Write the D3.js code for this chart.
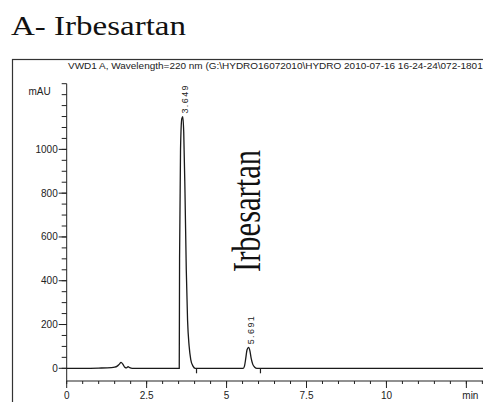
<!DOCTYPE html>
<html>
<head>
<meta charset="utf-8">
<script src="https://cdn.jsdelivr.net/npm/d3@7"></script>
<style>
  body { margin: 0; background: #fff; }
  svg { display: block; }
</style>
</head>
<body>
<div id="chart"></div>
<script>
const times = [0, 0.5, 1.0, 1.4, 1.5, 1.58, 1.64, 1.70, 1.76, 1.82, 1.87, 1.92, 1.97, 2.05, 2.3, 3.0, 3.5,
  3.52, 3.53, 3.56, 3.60, 3.63, 3.66, 3.70, 3.74, 3.78, 3.83, 3.88, 3.95, 4.02, 4.5, 5.0, 5.52,
  5.56, 5.60, 5.64, 5.69, 5.73, 5.77, 5.82, 5.88, 5.95, 6.5, 8, 10, 12, 13.1];
const mAU = [0, 0, 1, 3, 5, 10, 18, 27, 18, 4, 2, 7, 3, 0, 0, 0, 0,
  0, 500, 1000, 1140, 1150, 1080, 800, 450, 220, 100, 40, 10, 0, 0, 0, 0,
  10, 45, 85, 96, 80, 45, 18, 5, 0, 0, 0, 0, 0, 0];
const yTicks = [0, 200, 400, 600, 800, 1000];
const xTicks = [0, 2.5, 5, 7.5, 10, 12.5];
const xTickLabels = ["0", "2.5", "5", "7.5", "10", "min"];
const peakTimes = [3.64, 5.69];
const peakHeights = [1150, 96];
const peakLabels = ["3.649", "5.691"];
const peakEnds = [4.06, 6.06];
const title = "A- Irbesartan";
const header = "VWD1 A, Wavelength=220 nm (G:\\HYDRO16072010\\HYDRO 2010-07-16 16-24-24\\072-1801.D)";
const compound = "Irbesartan";

const W = 483, H = 402;
const ink = "#222";
const svg = d3.select("#chart").append("svg").attr("width", W).attr("height", H);

// échelles
const x = d3.scaleLinear().domain([0, 13.02]).range([66.7, 483]);
const y = d3.scaleLinear().domain([-58, 1300]).range([381, 83.7]);

// titre
svg.append("text")
  .attr("x", 11).attr("y", 35)
  .attr("font-family", "'Liberation Serif','Times New Roman',serif")
  .attr("font-size", 28).attr("fill", "#111")
  .attr("textLength", 175).attr("lengthAdjust", "spacingAndGlyphs")
  .text(title);

// cadre
svg.append("rect")
  .attr("x", 12.5).attr("y", 59.5).attr("width", 500).attr("height", 400)
  .attr("fill", "none").attr("stroke", "#333").attr("stroke-width", 1.2);

// en-tête
svg.append("text")
  .attr("x", 68).attr("y", 69)
  .attr("font-family", "'Liberation Sans Narrow','Arial Narrow','Liberation Sans',sans-serif")
  .attr("font-size", 9).attr("fill", ink)
  .attr("textLength", 428).attr("lengthAdjust", "spacingAndGlyphs")
  .text(header);

// axe Y
const yAxis = svg.append("g").attr("transform", `translate(${x(0)},0)`);
yAxis.append("line").attr("y1", y(1300)).attr("y2", y(-58)).attr("stroke", ink);
yAxis.selectAll(".minor").data(d3.range(0, 1301, 50)).join("line")
  .attr("x1", -5).attr("x2", 0).attr("y1", d => y(d)).attr("y2", d => y(d))
  .attr("stroke", ink);
yAxis.selectAll(".major").data(yTicks).join("line")
  .attr("x1", -8).attr("x2", 0).attr("y1", d => y(d)).attr("y2", d => y(d))
  .attr("stroke", ink);
yAxis.selectAll("text.lab").data(yTicks).join("text")
  .attr("x", -9).attr("y", d => y(d)).attr("dy", "0.35em")
  .attr("text-anchor", "end")
  .attr("font-family", "'Liberation Sans',Arial,sans-serif").attr("font-size", 10)
  .attr("fill", ink).text(d => d);
yAxis.append("text")
  .attr("x", -16).attr("y", 95).attr("text-anchor", "end")
  .attr("font-family", "'Liberation Sans',Arial,sans-serif").attr("font-size", 10)
  .attr("fill", ink).text("mAU");

// axe X
const xAxis = svg.append("g").attr("transform", `translate(0,${y(-58)})`);
xAxis.append("line").attr("x1", x(0)).attr("x2", W).attr("stroke", ink);
xAxis.selectAll(".minor").data(d3.range(0, 13.01, 0.5)).join("line")
  .attr("x1", d => x(d)).attr("x2", d => x(d)).attr("y1", 0).attr("y2", 3)
  .attr("stroke", ink);
xAxis.selectAll(".major").data(xTicks).join("line")
  .attr("x1", d => x(d)).attr("x2", d => x(d)).attr("y1", 0).attr("y2", 7)
  .attr("stroke", ink);
xAxis.selectAll("text.lab").data(xTicks).join("text")
  .attr("x", (d, i) => x(d) + (i === xTicks.length - 1 ? 4 : 0)).attr("y", 18)
  .attr("text-anchor", "middle")
  .attr("font-family", "'Liberation Sans',Arial,sans-serif").attr("font-size", 10)
  .attr("fill", ink).text((d, i) => xTickLabels[i]);

// signal
const line = d3.line().x(d => x(d[0])).y(d => y(d[1])).curve(d3.curveMonotoneX);
svg.append("path")
  .datum(times.map((t, i) => [t, mAU[i]]))
  .attr("d", line)
  .attr("fill", "none").attr("stroke", "#1a1a1a").attr("stroke-width", 1.3);

// marqueurs de fin de pic
svg.selectAll(".pend").data(peakEnds).join("line")
  .attr("x1", d => x(d)).attr("x2", d => x(d))
  .attr("y1", y(0)).attr("y2", y(0) + 5)
  .attr("stroke", ink).attr("stroke-width", 1.2);

// étiquettes des pics
svg.selectAll(".plab").data(peakTimes).join("text")
  .attr("transform", (d, i) => `translate(${x(d) + 5},${y(peakHeights[i]) - 3}) rotate(-90)`)
  .attr("font-family", "'Liberation Sans',Arial,sans-serif").attr("font-size", 9)
  .attr("letter-spacing", 1.4).attr("fill", ink)
  .text((d, i) => peakLabels[i]);

// nom du composé
svg.append("text")
  .attr("transform", "translate(260,272) rotate(-90)")
  .attr("font-family", "'Liberation Serif','Times New Roman',serif")
  .attr("font-size", 41).attr("fill", "#111")
  .attr("textLength", 122).attr("lengthAdjust", "spacingAndGlyphs")
  .text(compound);
</script>
</body>
</html>
